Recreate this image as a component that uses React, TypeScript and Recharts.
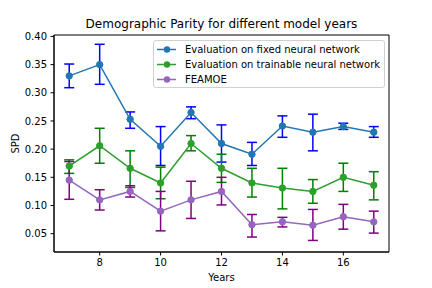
import React from 'react';
import { LineChart, Line, XAxis, YAxis, ErrorBar, ReferenceArea } from 'recharts';

const years = [7, 8, 9, 10, 11, 12, 13, 14, 15, 16, 17];

const fixedMean = [0.330, 0.350, 0.253, 0.205, 0.265, 0.210, 0.191, 0.241, 0.230, 0.240, 0.230];
const fixedLow = [0.309, 0.315, 0.237, 0.171, 0.254, 0.177, 0.171, 0.221, 0.197, 0.235, 0.221];
const fixedHigh = [0.351, 0.386, 0.266, 0.240, 0.275, 0.243, 0.212, 0.259, 0.262, 0.246, 0.240];

const trainMean = [0.170, 0.206, 0.166, 0.140, 0.210, 0.166, 0.140, 0.131, 0.125, 0.150, 0.136];
const trainLow = [0.157, 0.175, 0.132, 0.112, 0.197, 0.141, 0.115, 0.094, 0.104, 0.125, 0.110];
const trainHigh = [0.181, 0.237, 0.197, 0.168, 0.224, 0.191, 0.166, 0.166, 0.146, 0.175, 0.160];

const feamoeMean = [0.145, 0.110, 0.125, 0.090, 0.110, 0.125, 0.066, 0.071, 0.065, 0.080, 0.071];
const feamoeLow = [0.111, 0.092, 0.115, 0.055, 0.077, 0.101, 0.044, 0.062, 0.038, 0.058, 0.051];
const feamoeHigh = [0.178, 0.128, 0.135, 0.125, 0.143, 0.150, 0.084, 0.079, 0.093, 0.102, 0.090];

const xTicks = [8, 10, 12, 14, 16];
const yTicks = [0.05, 0.10, 0.15, 0.20, 0.25, 0.30, 0.35, 0.40];

const seriesNames = [
  'Evaluation on fixed neural network',
  'Evaluation on trainable neural network',
  'FEAMOE',
];
const lineColors = ['#1f77b4', '#2ca02c', '#9467bd'];
const errColors = ['#0000ff', '#008000', '#800080'];

const data = years.map((y, i) => ({
  year: y,
  fixed: fixedMean[i],
  fixedErr: [fixedMean[i] - fixedLow[i], fixedHigh[i] - fixedMean[i]],
  train: trainMean[i],
  trainErr: [trainMean[i] - trainLow[i], trainHigh[i] - trainMean[i]],
  feamoe: feamoeMean[i],
  feamoeErr: [feamoeMean[i] - feamoeLow[i], feamoeHigh[i] - feamoeMean[i]],
}));

const FONT = 'DejaVu Sans, sans-serif';

const SpdLabel = (props: any) => {
  const vb = props.viewBox || { x: 0, y: 0, width: 0, height: 0 };
  const cy = vb.y + vb.height / 2;
  return (
    <text x={15} y={cy} transform={`rotate(-90, 15, ${cy})`} textAnchor="middle" dominantBaseline="central" fontSize={10} fontFamily={FONT} fill="#000">
      SPD
    </text>
  );
};

const YearsLabel = (props: any) => {
  const vb = props.viewBox || { x: 0, y: 0, width: 0, height: 0 };
  const cx = vb.x + vb.width / 2;
  return (
    <text x={cx} y={281} textAnchor="middle" fontSize={10} fontFamily={FONT} fill="#000">
      Years
    </text>
  );
};

export default function App() {
  const dot = (c: string) => ({ r: 3.2, fill: c, stroke: c, strokeWidth: 1 });
  return (
    <div style={{ position: 'absolute', left: 0, top: 0, width: 432, height: 288, background: '#fff', fontFamily: FONT }}>
      <div style={{ position: 'absolute', left: 54, width: 335, top: 17, textAlign: 'center', fontSize: 12, color: '#000', lineHeight: '14px', whiteSpace: 'nowrap' }}>
        Demographic Parity for different model years
      </div>
      <LineChart width={432} height={288} data={data} margin={{ top: 35, right: 43, left: 0, bottom: 0 }}>
        <XAxis
          dataKey="year"
          type="number"
          domain={[6.5, 17.5]}
          ticks={xTicks}
          allowDataOverflow
          height={36}
          tickSize={3.5}
          tickMargin={3.5}
          tick={{ fontSize: 10, fontFamily: FONT, fill: '#000' }}
          stroke="#000"
          label={<YearsLabel />}
        />
        <YAxis
          type="number"
          domain={[0.0175, 0.4025]}
          ticks={yTicks}
          allowDataOverflow
          width={54}
          tickSize={3.5}
          tickMargin={3.5}
          tickFormatter={(v: number) => v.toFixed(2)}
          tick={{ fontSize: 10, fontFamily: FONT, fill: '#000' }}
          stroke="#000"
          label={<SpdLabel />}
        />
        <ReferenceArea x1={6.5} x2={17.5} y1={0.0175} y2={0.4025} fill="none" stroke="#000" strokeWidth={1} ifOverflow="visible" />
        <Line dataKey="fixed" stroke={lineColors[0]} strokeWidth={1.5} dot={dot(lineColors[0])} isAnimationActive={false}>
          <ErrorBar dataKey="fixedErr" direction="y" width={5} stroke={errColors[0]} strokeWidth={1.5} isAnimationActive={false} />
        </Line>
        <Line dataKey="train" stroke={lineColors[1]} strokeWidth={1.5} dot={dot(lineColors[1])} isAnimationActive={false}>
          <ErrorBar dataKey="trainErr" direction="y" width={5} stroke={errColors[1]} strokeWidth={1.5} isAnimationActive={false} />
        </Line>
        <Line dataKey="feamoe" stroke={lineColors[2]} strokeWidth={1.5} dot={dot(lineColors[2])} isAnimationActive={false}>
          <ErrorBar dataKey="feamoeErr" direction="y" width={5} stroke={errColors[2]} strokeWidth={1.5} isAnimationActive={false} />
        </Line>
      </LineChart>
      <div style={{ position: 'absolute', left: 153, top: 40, width: 230, height: 46, border: '1px solid #d0d0d0', borderRadius: 3, background: 'rgba(255,255,255,0.8)' }}>
        {seriesNames.map((name, i) => (
          <div key={name} style={{ position: 'absolute', left: 0, top: 1 + i * 15, height: 15, width: 230 }}>
            <svg width={22} height={15} style={{ position: 'absolute', left: 2, top: 0 }}>
              <line x1={1} y1={7.5} x2={20} y2={7.5} stroke={lineColors[i]} strokeWidth={1.5} />
              <circle cx={11} cy={7.5} r={3.2} fill={lineColors[i]} />
            </svg>
            <span style={{ position: 'absolute', left: 31, top: 0, fontSize: 10, lineHeight: '15px', color: '#000', whiteSpace: 'nowrap' }}>{name}</span>
          </div>
        ))}
      </div>
    </div>
  );
}
